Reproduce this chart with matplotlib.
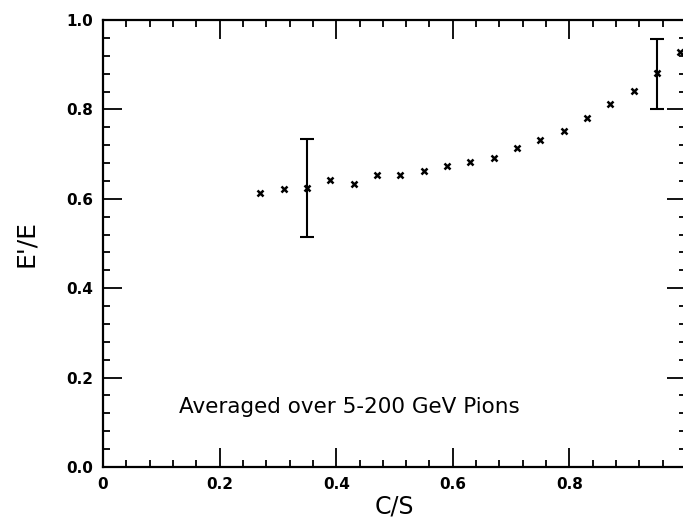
import numpy as np
import matplotlib.pyplot as plt
from matplotlib.ticker import MultipleLocator

# C/S bins and averaged E'/E values
cs = [0.27, 0.31, 0.35, 0.39, 0.43, 0.47, 0.51, 0.55, 0.59, 0.63,
      0.67, 0.71, 0.75, 0.79, 0.83, 0.87, 0.91, 0.95, 0.99]
ratio = [0.613, 0.622, 0.624, 0.642, 0.633, 0.653, 0.653, 0.662, 0.673, 0.682,
         0.691, 0.714, 0.732, 0.752, 0.781, 0.812, 0.841, 0.881, 0.928]

# the two points that carry error bars
err_x = [0.35, 0.95]
err_y = [0.624, 0.881]
err_lo = [0.624 - 0.515, 0.881 - 0.800]
err_hi = [0.734 - 0.624, 0.957 - 0.881]

xticks = [0, 0.2, 0.4, 0.6, 0.8]
xlabels = ['0', '0.2', '0.4', '0.6', '0.8']
yticks = [0, 0.2, 0.4, 0.6, 0.8, 1.0]
ylabels = ['0.0', '0.2', '0.4', '0.6', '0.8', '1.0']

plt.rcParams['font.family'] = 'DejaVu Sans'

fig = plt.figure(figsize=(6.83, 5.24), dpi=100)
ax = fig.add_axes([103/683, 1 - 467/524, 583/683, 447/524])

ax.plot(cs, ratio, ls='none', marker='x', ms=4, mew=1.8, color='black', clip_on=False)
ax.errorbar(err_x, err_y, yerr=[err_lo, err_hi], fmt='none', ecolor='black',
            elinewidth=1.5, capsize=5, capthick=1.5)

ax.set_xlim(0, 1.0)
ax.set_ylim(0, 1.0)
ax.xaxis.set_minor_locator(MultipleLocator(0.04))
ax.yaxis.set_minor_locator(MultipleLocator(0.04))
ax.set_xticks(xticks)
ax.set_xticklabels(xlabels)
ax.set_yticks(yticks)
ax.set_yticklabels(ylabels)

ax.tick_params(which='both', direction='in', top=True, right=True, width=1.3)
ax.tick_params(which='major', length=14, labelsize=11, pad=7)
ax.tick_params(which='minor', length=5)
for lab in ax.get_xticklabels() + ax.get_yticklabels():
    lab.set_fontweight('bold')
for sp in ax.spines.values():
    sp.set_linewidth(1.6)

ax.set_xlabel('C/S', fontsize=17, labelpad=2)
ax.set_ylabel("E'/E", fontsize=18, labelpad=20)

ax.text(0.13, 0.12, 'Averaged over 5-200 GeV Pions', fontsize=15.5)

fig.savefig('out.png', dpi=100)
